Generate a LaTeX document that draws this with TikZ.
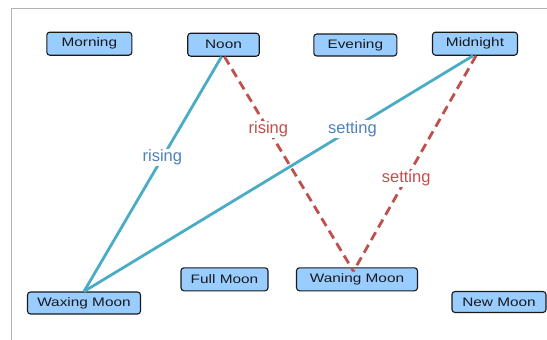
\documentclass[tikz,border=0pt]{standalone}
\usepackage{fontspec}
\setmainfont{Liberation Sans}
\newfontfamily\boxfont[FakeStretch=1.25]{Liberation Sans}
\begin{document}
\begin{tikzpicture}[x=1pt,y=-1pt,
  moonbox/.style={draw=black!90, line width=1.1pt, fill=boxblue, rounded corners=3pt,
    inner sep=0pt, minimum height=23pt, font=\boxfont\fontsize{12.3}{14}\selectfont, text=black!90},
  blueline/.style={draw=lineblue, line width=2.8pt},
  redline/.style={draw=linered, line width=2.8pt, dash pattern=on 9pt off 5.5pt},
  bluelab/.style={fill=white, inner sep=1pt, text=labblue, font=\fontsize{16.5}{18}\selectfont},
  redlab/.style={fill=white, inner sep=1pt, text=linered, font=\fontsize{16.5}{18}\selectfont}]
\definecolor{boxblue}{HTML}{99CCFF}
\definecolor{lineblue}{HTML}{4BACC6}
\definecolor{linered}{HTML}{C0504D}
\definecolor{labblue}{HTML}{4F81BD}
\useasboundingbox (0,0) rectangle (547,340);
\fill[white] (0,0) rectangle (547,340);
\draw[gray!60, line width=1pt] (11.5,360) -- (11.5,8) -- (560,8);
\node[moonbox, minimum width=85pt] (morning) at (89.3,43.7) {Morning};
\node[moonbox, minimum width=71.5pt] (noon) at (223.5,44.7) {Noon};
\node[moonbox, minimum width=83pt, minimum height=22pt] (evening) at (355.3,45) {Evening};
\node[moonbox, minimum width=85pt] (midnight) at (475,43.7) {Midnight};
\node[moonbox, minimum width=113pt, minimum height=22pt] (waxing) at (84,303) {Waxing Moon};
\node[moonbox, minimum width=87pt] (full) at (224.5,279.3) {Full Moon};
\node[moonbox, minimum width=121pt] (waning) at (357,279.3) {Waning Moon};
\node[moonbox, minimum width=94pt, minimum height=21pt] (new) at (499,302) {New Moon};
\path[blueline] ([xshift=-2pt]noon.south) -- (waxing.north) node[bluelab, pos=0.43] {rising};
\path[blueline] ([xshift=-2pt]midnight.south) -- (waxing.north) node[bluelab, pos=0.31] {setting};
\path[redline] ([xshift=1pt]noon.south) -- ([xshift=-3.5pt,yshift=-4pt]waning.north) node[redlab, pos=0.34] {rising};
\path[redline] ([xshift=1pt]midnight.south) -- ([xshift=-3.5pt,yshift=-4pt]waning.north) node[redlab, pos=0.57] {setting};
\end{tikzpicture}
\end{document}
